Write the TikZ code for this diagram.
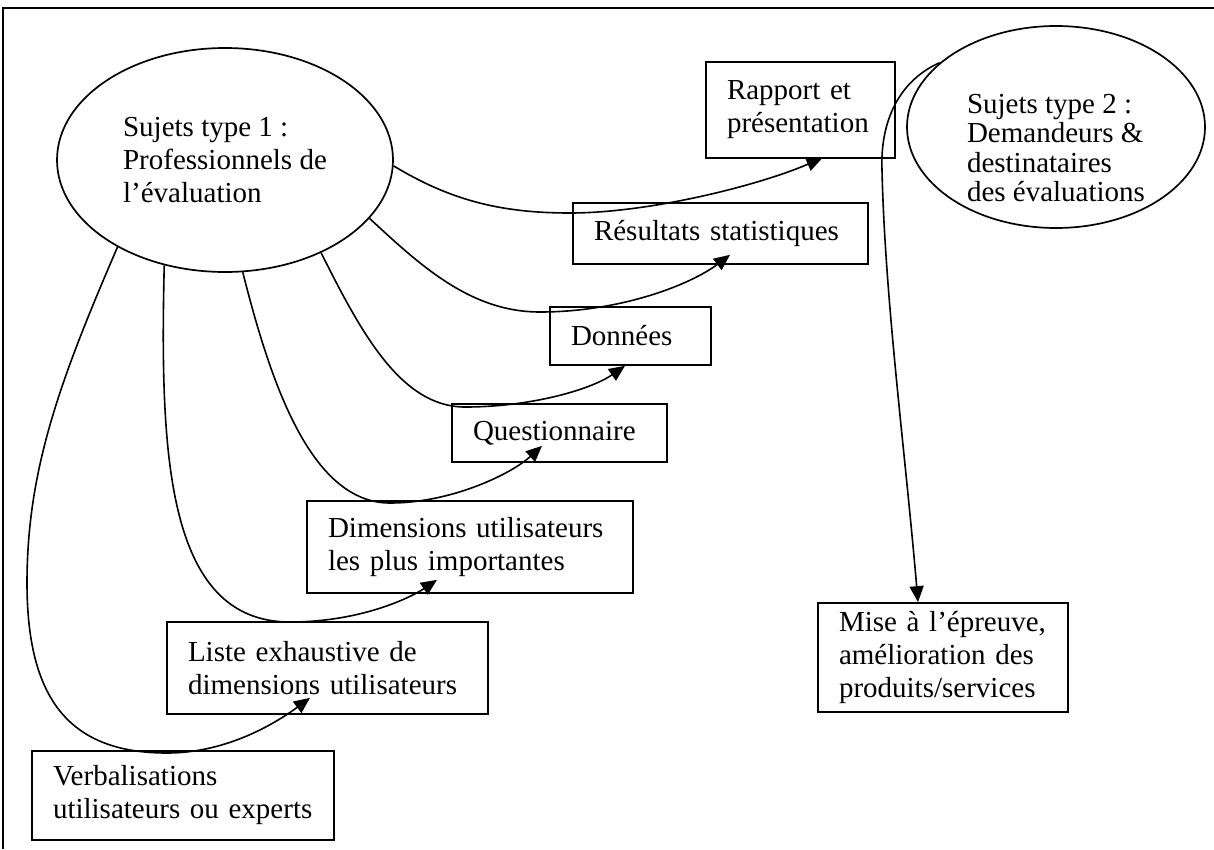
\documentclass[tikz,border=0pt]{standalone}
\usepackage{fontspec}
\setmainfont{Liberation Serif}
\usetikzlibrary{shapes.geometric,arrows.meta}
\begin{document}
\begin{tikzpicture}[x=1pt,y=-1pt,
  txt/.style={font=\fontsize{29}{33}\selectfont},
  box/.style={draw, line width=1.7pt, txt, align=left, inner xsep=21pt, inner ysep=0pt},
  oval/.style={draw, ellipse, line width=1.7pt, inner sep=0pt},
  link/.style={line width=1.6pt, -{Triangle[length=16pt,width=14pt]}},
  ]
\useasboundingbox (0,0) rectangle (1214,849);
\draw[line width=1.7pt] (3,849) -- (3,8) -- (1214,8);

\node[oval, txt, align=left, minimum width=336pt, minimum height=224pt] (s1) at (225,160)
  {Sujets type 1 :\\Professionnels de\\l’évaluation};
\node[oval, minimum width=298pt, minimum height=202pt] (s2) at (1056,127) {};
\node[align=left, font=\fontsize{29}{29.5}\selectfont, inner sep=0pt] (s2t) at (1056,148)
  {Sujets type 2 :\\Demandeurs \&\\destinataires\\des évaluations};

\node[box, text width=147pt, minimum height=96pt] (rap) at (800.5,110) {Rapport et\\présentation};
\node[box, text width=253pt, minimum height=61pt] (res) at (720.5,233.5) {Résultats statistiques};
\node[box, text width=119pt, minimum height=58pt] (don) at (630.5,336) {Données};
\node[box, text width=173pt, minimum height=58pt] (que) at (559.5,433) {Questionnaire};
\node[box, text width=284pt, minimum height=92pt] (dim) at (470,547) {Dimensions utilisateurs\\les plus importantes};
\node[box, text width=279pt, minimum height=92pt] (lis) at (327.5,668) {Liste exhaustive de\\dimensions utilisateurs};
\node[box, text width=260pt, minimum height=89pt] (ver) at (183,795.5) {Verbalisations\\utilisateurs ou experts};
\node[box, text width=208pt, minimum height=109pt] (mis) at (943,657.5) {Mise à l’épreuve,\\amélioration des\\produits/services};

\draw[link] (s1.-2) .. controls (450,200) and (500,213) .. (570,213)
  .. controls (650,213) and (760,185) .. ([xshift=22pt,yshift=1pt]rap.south);
\draw[link] (s1.-22.5) .. controls (420,265) and (470,312) .. (540,312)
  .. controls (620,312) and (690,285) .. ([xshift=9.5pt,yshift=10pt]res.south);
\draw[link] (s1.-44.7) .. controls (360,330) and (400,407) .. (465,407)
  .. controls (530,407) and (590,390) .. ([xshift=-5.5pt]don.south);
\draw[link] (s1.-81) .. controls (270,380) and (310,503) .. (390,503)
  .. controls (450,503) and (510,475) .. ([xshift=-17.5pt,yshift=17pt]que.south);
\draw[link] (s1.-120.5) .. controls (160,450) and (165,622) .. (290,622)
  .. controls (360,622) and (410,598) .. ([xshift=-33pt,yshift=14pt]dim.south);
\draw[link] (s1.-141.7) .. controls (60,380) and (27,470) .. (27,583)
  .. controls (27,700) and (70,753) .. (167,753)
  .. controls (230,753) and (280,720) .. ([xshift=-17.5pt,yshift=17pt]lis.south);
\draw[link] (s2.151.6) .. controls (900,80) and (880,120) .. (882,170)
  .. controls (885,300) and (905,450) .. ([xshift=-25pt]mis.north);
\end{tikzpicture}
\end{document}
